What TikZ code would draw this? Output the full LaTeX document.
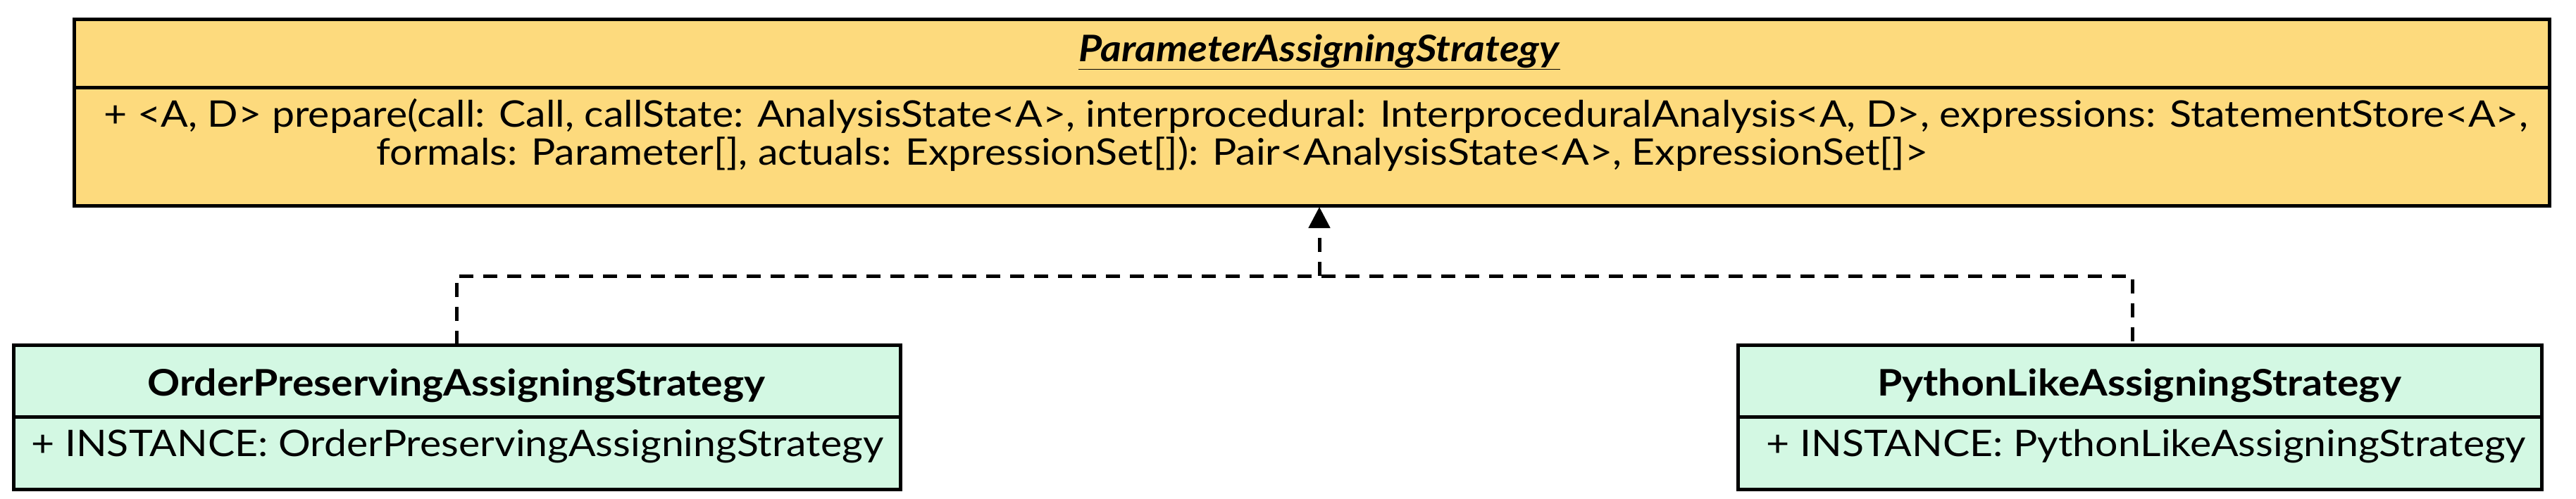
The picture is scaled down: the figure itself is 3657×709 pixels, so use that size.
\documentclass[tikz,border=0pt]{standalone}
\usepackage{fontspec}
\setmainfont{Lato}[FakeStretch=1.1]
\usetikzlibrary{arrows.meta}
\definecolor{yel}{HTML}{FDDA7D}
\definecolor{grn}{HTML}{D3F8E3}
\begin{document}
\begin{tikzpicture}[x=1pt,y=-1pt,line width=5pt,
  txt/.style={inner sep=0pt,font=\fontsize{52}{54}\selectfont,anchor=base west},
  ttl/.style={inner sep=0pt,font=\fontsize{52}{54}\selectfont\bfseries},
  dep/.style={dashed,dash pattern=on 20pt off 14pt}]
\useasboundingbox (0,0) rectangle (3657,709);
\fill[white] (0,0) rectangle (3657,709);
% top class
\draw[fill=yel] (105,28) rectangle (3619,292);
\draw (105,124) -- (3619,124);
\node[ttl] (pt) at (1873,74) {\underline{\textit{ParameterAssigningStrategy}}};
\node[txt] (m1) at (145,180) {+ <A, D> prepare(call: Call, callState: AnalysisState<A>, interprocedural: InterproceduralAnalysis<A, D>, expressions: StatementStore<A>,};
\node[txt] (m2) at (532,234) {formals: Parameter[], actuals: ExpressionSet[]): Pair<AnalysisState<A>, ExpressionSet[]>};
% left
\draw[fill=grn] (19,490) rectangle (1278,695);
\draw (19,592) -- (1278,592);
\node[ttl] (lt) at (648,548) {OrderPreservingAssigningStrategy};
\node[txt] (la) at (42,648) {+ INSTANCE: OrderPreservingAssigningStrategy};
% right
\draw[fill=grn] (2467,490) rectangle (3608,695);
\draw (2467,592) -- (3608,592);
\node[ttl] (rt) at (3037,548) {PythonLikeAssigningStrategy};
\node[txt] (ra) at (2505,648) {+ INSTANCE: PythonLikeAssigningStrategy};
% connectors
\coordinate (top) at (1873,294);
\coordinate (mid) at (1873,392);
\draw[dep] (648,490) -- (648,392) -- (3027,392) -- (3027,490);
\draw[dep,-{Triangle[length=30pt,width=30pt]}] (mid) -- (top);
\end{tikzpicture}
\end{document}
